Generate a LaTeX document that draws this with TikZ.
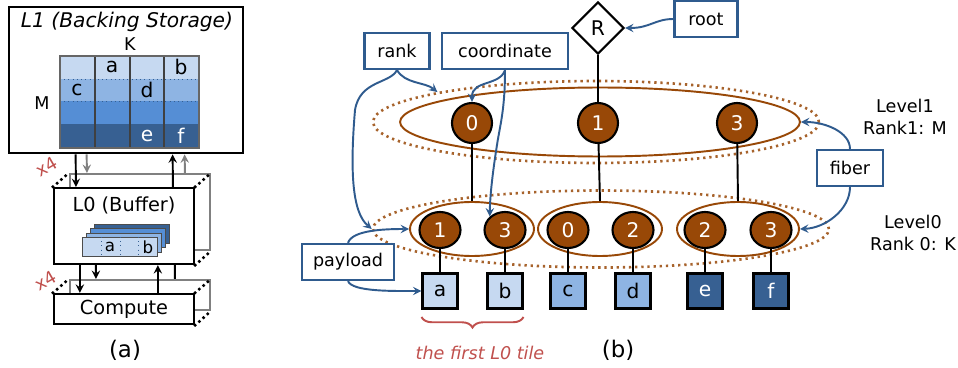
\documentclass[tikz,border=0pt]{standalone}
\usepackage{fontspec}
\setmainfont{DejaVu Sans}
\usetikzlibrary{shapes.geometric, arrows, calc, positioning, decorations.pathreplacing}
\definecolor{fiberbrown}{HTML}{984807}
\definecolor{noteblue}{HTML}{2F5B8E}
\definecolor{tilered}{HTML}{C0504D}
\definecolor{tileA}{HTML}{C6D9F1}
\definecolor{tileB}{HTML}{8EB4E3}
\definecolor{tileC}{HTML}{558ED5}
\definecolor{tileD}{HTML}{376092}
\tikzstyle{membox} = [rectangle, line width=1.3pt, draw=black, fill=white, minimum width=2.8cm, minimum height=1.52cm]
\tikzstyle{backbox} = [rectangle, line width=1.2pt, draw=gray, minimum width=2.8cm, minimum height=1.52cm]
\tikzstyle{stackdots} = [line width=2pt, dash pattern=on 0pt off 3.2pt, line cap=round]
\tikzstyle{coordnode} = [circle, line width=1.2pt, draw=black, fill=fiberbrown, text=white, minimum size=0.8cm, inner sep=0pt, font=\fontsize{11.5}{13}\selectfont]
\tikzstyle{leafcoord} = [ellipse, line width=1.2pt, draw=black, fill=fiberbrown, text=white, minimum width=0.82cm, minimum height=0.72cm, inner sep=0pt, font=\fontsize{11.5}{13}\selectfont]
\tikzstyle{payloadbox} = [rectangle, line width=1.2pt, draw=black, minimum size=0.7cm, inner sep=0pt, font=\fontsize{11.5}{13}\selectfont]
\tikzstyle{fiberring} = [ellipse, line width=1.1pt, draw=fiberbrown]
\tikzstyle{levelring} = [ellipse, line width=1.5pt, dash pattern=on 1.3pt off 2.2pt, draw=fiberbrown!85]
\tikzstyle{tagbox} = [rectangle, line width=1.2pt, draw=noteblue, fill=white, minimum height=0.72cm, inner sep=0pt, font=\fontsize{10}{12}\selectfont]
\tikzstyle{arrow} = [line width=1.1pt,->,>=stealth]
\tikzstyle{tagarrow} = [line width=1.1pt,->,>=stealth, draw=noteblue]

\begin{document}
\begin{tikzpicture}[x=0.02cm, y=-0.02cm, font=\fontsize{10}{12}\selectfont]
	\useasboundingbox (0,0) rectangle (958,368);

	% (a) storage hierarchy
	\node (L1) [rectangle, line width=1.6pt, draw=black, minimum width=4.68cm, minimum height=2.92cm] at (126,80) {};
	\node (L1Title) at (127,22) {\fontsize{11.5}{13}\selectfont\itshape L1 (Backing Storage)};
	\node (KLbl) at (130,44) {K};
	\node (MLbl) at (42,103) {M};
	\fill [tileA] (60,56) rectangle (199,79);
	\fill [tileB] (60,79) rectangle (199,101);
	\fill [tileC] (60,101) rectangle (199,124);
	\fill [tileD] (60,124) rectangle (199,148);
	\draw [dotted, tileD] (60,79) -- (199,79) (60,101) -- (199,101) (60,124) -- (199,124);
	\draw [line width=1.1pt, black!75] (95,56) -- (95,148) (130,56) -- (130,148) (164,56) -- (164,148);
	\draw [line width=1.1pt, black!60] (60,56) rectangle (199,148);
	\node (Ga) [font=\fontsize{11.5}{13}\selectfont] at (112,67) {a};
	\node (Gb) [font=\fontsize{11.5}{13}\selectfont] at (181,67) {b};
	\node (Gc) [font=\fontsize{11.5}{13}\selectfont] at (77,90) {c};
	\node (Gd) [font=\fontsize{11.5}{13}\selectfont] at (147,90) {d};
	\node (Ge) [font=\fontsize{11.5}{13}\selectfont, text=white] at (147,136) {e};
	\node (Gf) [font=\fontsize{11.5}{13}\selectfont, text=white] at (181,136) {f};

	\node (L0Back) [backbox] at (140,212) {};
	\node (CompBack) [backbox, minimum height=0.6cm] at (140,295) {};

	\draw [arrow] ($(L1.south west)+(68,0)$) -- ($(L0Back.north west)+(7,14)$);
	\draw [arrow, gray] ($(L1.south west)+(79,0)$) -- ($(L0Back.north west)+(18,0)$);
	\draw [arrow] ($(L0Back.north west)+(104,14)$) -- ($(L1.south west)+(165,0)$);
	\draw [arrow, gray] ($(L0Back.north west)+(116,0)$) -- ($(L1.south west)+(177,0)$);

	\node (L0) [membox] at (124,226) {};
	\node (L0Title) [font=\fontsize{11}{13}\selectfont] at (124,205) {L0 (Buffer)};
	\fill [tileD, draw=black!70] (94,224) rectangle (169,243);
	\fill [tileC, draw=black!70] (90,228) rectangle (165,247);
	\fill [tileB, draw=black!70] (86,233) rectangle (161,252);
	\filldraw [fill=tileA, draw=black!70] (82,237) rectangle (157,256);
	\draw [dotted, tileD] (101,237) -- (101,256) (120,237) -- (120,256) (138,237) -- (138,256);
	\node (Ta) [font=\fontsize{9.5}{11}\selectfont] at (110,247) {a};
	\node (Tb) [font=\fontsize{9.5}{11}\selectfont] at (148,247) {b};

	\node (Compute) [membox, minimum height=0.6cm, font=\fontsize{11}{13}\selectfont] at (124,309) {Compute};

	\draw [arrow] ($(L0.south west)+(27,0)$) -- ($(Compute.north west)+(27,0)$);
	\draw [arrow] ($(L0.south west)+(43,0)$) -- ($(CompBack.north west)+(27,0)$);
	\draw [arrow] ($(Compute.north west)+(105,0)$) -- ($(L0.south west)+(105,0)$);
	\draw [line width=1.1pt] ($(L0.south west)+(122,0)$) -- ($(CompBack.north west)+(106,0)$);

	\draw [stackdots] (L0.north west) -- (L0Back.north west);
	\draw [stackdots] (L0.north east) -- (L0Back.north east);
	\draw [stackdots] (L0.south east) -- (L0Back.south east);
	\draw [stackdots] (Compute.north west) -- (CompBack.north west);
	\draw [stackdots] (Compute.north east) -- (CompBack.north east);
	\draw [stackdots] (Compute.south east) -- (CompBack.south east);
	\node (Rep0) [text=tilered, rotate=30, inner sep=1pt] at (47,167) {x4};
	\node (Rep1) [text=tilered, rotate=30, inner sep=1pt] at (46,281) {x4};
	\node (CapA) [font=\fontsize{13}{15}\selectfont] at (125,350) {(a)};

	% (b) fibertree
	\node (Lvl1) [levelring, minimum width=8.92cm, minimum height=1.64cm] at (596,122) {};
	\node (Fib1) [fiberring, minimum width=8cm, minimum height=1.38cm] at (600,122) {};
	\node (Lvl0) [levelring, minimum width=9.12cm, minimum height=1.54cm] at (601,229) {};
	\node (Fib00) [fiberring, minimum width=2.48cm, minimum height=1.08cm] at (472,229) {};
	\node (Fib01) [fiberring, minimum width=2.48cm, minimum height=1.08cm] at (600,229) {};
	\node (Fib02) [fiberring, minimum width=2.44cm, minimum height=1.08cm] at (738,229) {};

	\node (Root) [diamond, line width=1.2pt, draw=black, fill=white, minimum size=1.04cm, inner sep=0pt, font=\fontsize{11.5}{13}\selectfont] at (598,28) {R};

	\node (C10) [coordnode] at (472,123) {0};
	\node (C11) [coordnode] at (598,123) {1};
	\node (C12) [coordnode] at (737,123) {3};

	\node (C00) [leafcoord] at (440,230) {1};
	\node (C01) [leafcoord] at (505,230) {3};
	\node (C02) [leafcoord] at (568,230) {0};
	\node (C03) [leafcoord] at (633,230) {2};
	\node (C04) [leafcoord] at (705,230) {2};
	\node (C05) [leafcoord] at (771,230) {3};

	\node (La) [payloadbox, fill=tileA] at (440,291) {a};
	\node (Lb) [payloadbox, fill=tileA] at (505,291) {b};
	\node (Lc) [payloadbox, fill=tileB] at (568,291) {c};
	\node (Ld) [payloadbox, fill=tileB] at (633,291) {d};
	\node (Le) [payloadbox, fill=tileD, text=white] at (705,291) {e};
	\node (Lf) [payloadbox, fill=tileD, text=white] at (771,291) {f};

	\draw [line width=1.1pt] (Root) -- (C11);
	\draw [line width=1.1pt] (C10) -- (Fib00.north);
	\draw [line width=1.1pt] (C11) -- (Fib01.north);
	\draw [line width=1.1pt] (C12) -- (Fib02.north);
	\draw [line width=1.1pt] (C00) -- (La);
	\draw [line width=1.1pt] (C01) -- (Lb);
	\draw [line width=1.1pt] (C02) -- (Lc);
	\draw [line width=1.1pt] (C03) -- (Ld);
	\draw [line width=1.1pt] (C04) -- (Le);
	\draw [line width=1.1pt] (C05) -- (Lf);

	\node (RootTag) [tagbox, minimum width=1.26cm] at (706,19) {root};
	\node (RankTag) [tagbox, minimum width=1.3cm] at (397,51) {rank};
	\node (CoordTag) [tagbox, minimum width=2.52cm] at (505,51) {coordinate};
	\node (PayloadTag) [tagbox, minimum width=1.84cm] at (348,262) {payload};
	\node (FiberTag) [tagbox, minimum width=1.32cm] at (850,168) {fiber};

	\draw [tagarrow] (RootTag.west) .. controls (655,19) and (650,28) .. (Root.east);
	\draw [tagarrow] (RankTag.south) .. controls (405,84) and (425,82) .. (Lvl1.north west);
	\draw [tagarrow] (RankTag.south) .. controls (390,84) and (360,80) .. (355,110) .. controls (350,170) and (352,212) .. (Lvl0.west);
	\draw [tagarrow] (CoordTag.south) .. controls (500,86) and (472,80) .. (C10.north);
	\draw [tagarrow] (CoordTag.south) .. controls (505,110) and (500,125) .. (497,145) .. controls (493,170) and (490,195) .. (C01.north west);
	\draw [tagarrow] (PayloadTag.north) .. controls (352,230) and (385,229) .. (Fib00.west);
	\draw [tagarrow] (PayloadTag.south) .. controls (352,292) and (395,291) .. (La.west);
	\draw [tagarrow] (FiberTag.north) .. controls (850,132) and (825,122) .. (Fib1.east);
	\draw [tagarrow] (FiberTag.south) .. controls (850,210) and (825,228) .. (Fib02.east);

	\node (Lv1Txt) [align=center, font=\fontsize{10}{12.5}\selectfont] at (905,117) {Level1\\Rank1: M};
	\node (Lv0Txt) [align=center, font=\fontsize{10}{12.5}\selectfont] at (913,233) {Level0\\Rank 0: K};

	\draw [line width=1.1pt, tilered, decorate, decoration={brace, mirror, amplitude=6pt}] (La.south west |- 0,317) -- (Lb.south east |- 0,317);
	\node (TileTxt) [text=tilered, font=\fontsize{10}{12}\selectfont\itshape] at (480,353) {the first L0 tile};
	\node (CapB) [font=\fontsize{13}{15}\selectfont] at (618,350) {(b)};
\end{tikzpicture}
\end{document}
